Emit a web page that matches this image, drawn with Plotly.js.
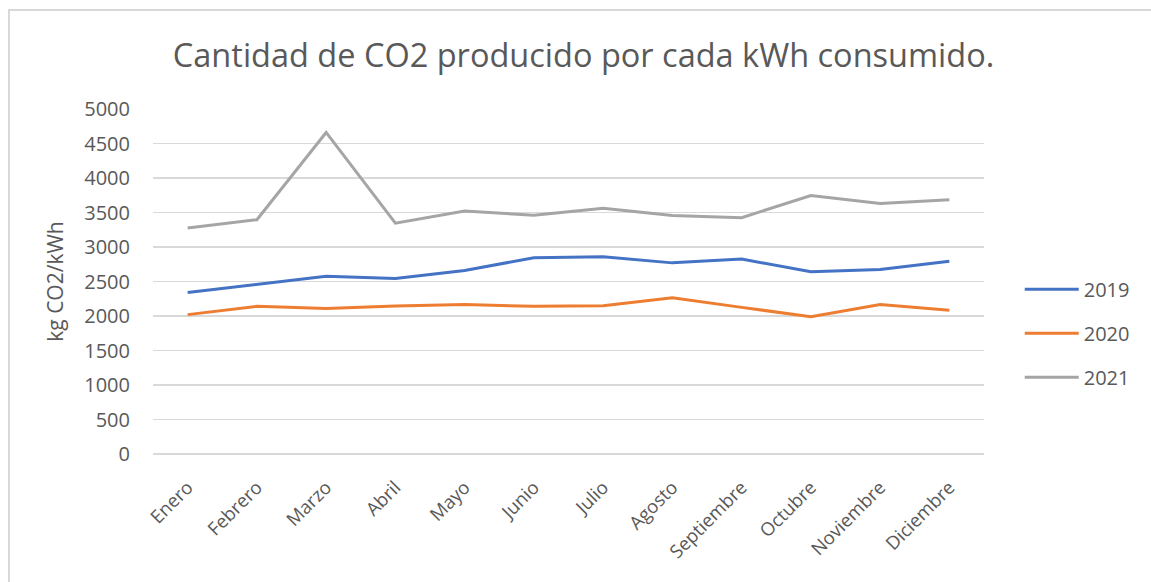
<!DOCTYPE html>
<html>
<head>
<meta charset="utf-8">
<script src="https://cdn.plot.ly/plotly-3.0.1.min.js"></script>
<style>
  html, body { margin: 0; padding: 0; background: #fff; }
  #wrap { position: relative; width: 1151px; height: 582px; overflow: hidden; }
  #chart { position: absolute; left: 0; top: 0; width: 1151px; height: 582px; }
  #frame { position: absolute; left: 8px; top: 9px; width: 1200px; height: 700px;
           border-left: 2px solid #d9d9d9; border-top: 2px solid #d9d9d9; pointer-events: none; }
</style>
</head>
<body>
<div id="wrap">
  <div id="chart"></div>
  <div id="frame"></div>
</div>
<script>
const months = ["Enero","Febrero","Marzo","Abril","Mayo","Junio","Julio","Agosto","Septiembre","Octubre","Noviembre","Diciembre"];
const v2019 = [2340, 2460, 2575, 2545, 2660, 2845, 2860, 2770, 2825, 2640, 2675, 2795];
const v2020 = [2020, 2140, 2110, 2145, 2165, 2140, 2150, 2265, 2125, 1990, 2165, 2085];
const v2021 = [3275, 3395, 4660, 3345, 3520, 3460, 3560, 3455, 3425, 3745, 3630, 3685];
const seriesNames = ["2019", "2020", "2021"];
const colors = ["#4472C4", "#ED7D31", "#A5A5A5"];

const fontFam = "'Open Sans', sans-serif";
const traces = [v2019, v2020, v2021].map((vals, i) => ({
  type: "scatter",
  mode: "lines",
  x: months,
  y: vals,
  name: seriesNames[i],
  legendgroup: "g" + i,
  line: { color: colors[i], width: 3 },
  hoverinfo: "x+y+name"
}));

const layout = {
  width: 1151,
  height: 582,
  paper_bgcolor: "rgba(0,0,0,0)",
  plot_bgcolor: "rgba(0,0,0,0)",
  margin: { l: 153, r: 167, t: 109, b: 127.5 },
  font: { family: fontFam, color: "#595959", size: 20 },
  title: {
    text: "Cantidad de CO2 producido por cada kWh consumido.",
    font: { family: fontFam, size: 32.5, color: "#595959" },
    x: 0.507, xanchor: "center",
    y: 0.905, yanchor: "middle"
  },
  xaxis: {
    type: "category",
    tickangle: -45,
    showgrid: false,
    showline: false,
    zeroline: false,
    ticks: "",
    ticklabelstandoff: 18,
    tickfont: { family: fontFam, size: 18.5, color: "#595959" },
    range: [-0.5, 11.5]
  },
  yaxis: {
    range: [0, 5000],
    dtick: 500,
    tick0: 0,
    showgrid: true,
    gridcolor: "#d9d9d9",
    gridwidth: 1.3,
    zeroline: true,
    zerolinecolor: "#d9d9d9",
    zerolinewidth: 1.3,
    showline: false,
    ticks: "",
    ticklabelstandoff: 22,
    tickfont: { family: fontFam, size: 20, color: "#595959" },
    title: { text: "kg CO2/kWh", font: { family: fontFam, size: 21, color: "#595959" }, standoff: 14 }
  },
  showlegend: true,
  legend: {
    x: 1.043, xanchor: "left",
    y: 0.35, yanchor: "middle",
    orientation: "v",
    tracegroupgap: 15,
    itemwidth: 54,
    font: { family: fontFam, size: 20, color: "#595959" },
    bgcolor: "rgba(0,0,0,0)"
  }
};

Plotly.newPlot("chart", traces, layout, { displayModeBar: false, staticPlot: true });
</script>
</body>
</html>
